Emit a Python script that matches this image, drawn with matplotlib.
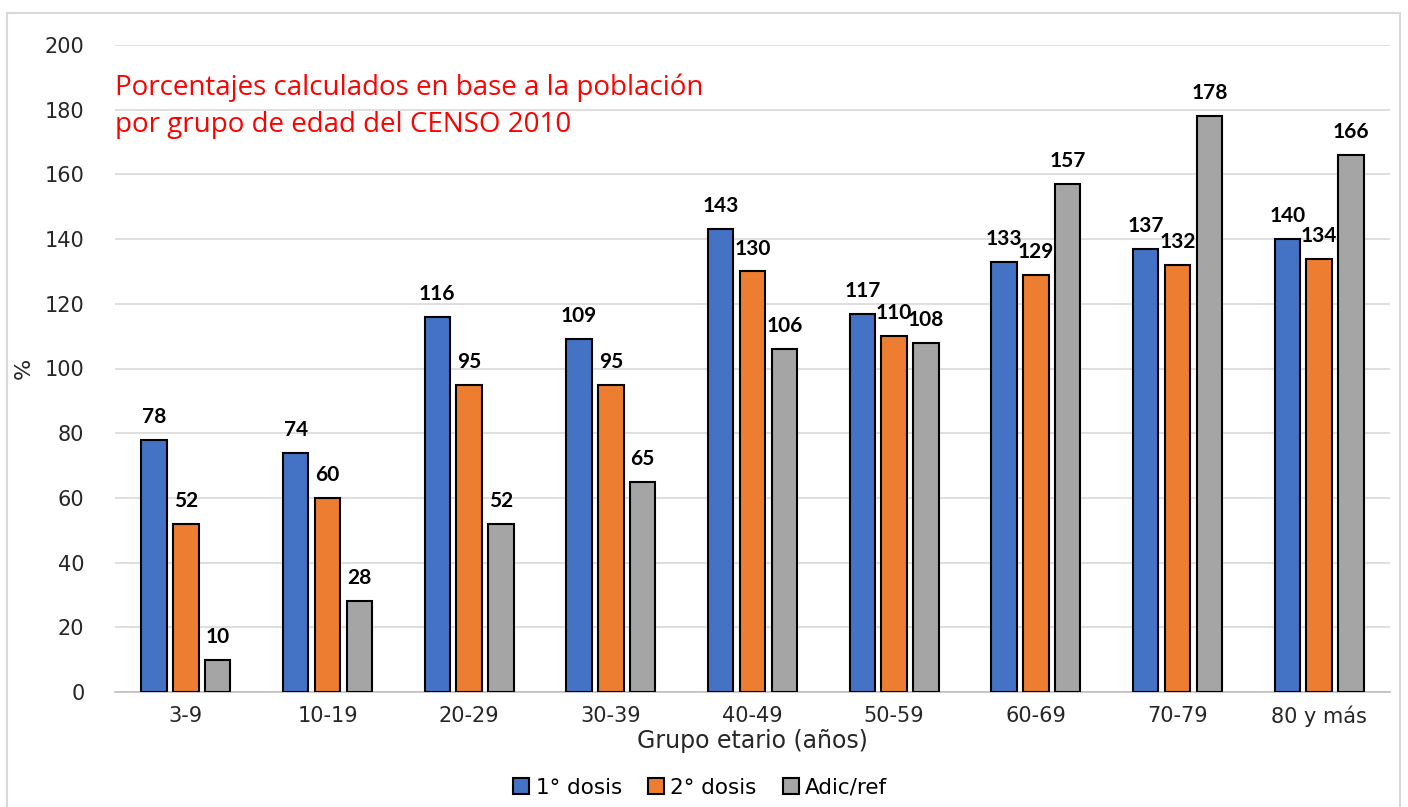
import matplotlib.pyplot as plt
import numpy as np
from matplotlib.patches import Rectangle

grupos = ["3-9", "10-19", "20-29", "30-39", "40-49", "50-59", "60-69", "70-79", "80 y más"]
dosis1 = [78, 74, 116, 109, 143, 117, 133, 137, 140]
dosis2 = [52, 60, 95, 95, 130, 110, 129, 132, 134]
adic_ref = [10, 28, 52, 65, 106, 108, 157, 178, 166]
series_names = ["1° dosis", "2° dosis", "Adic/ref"]
colors = ["#4472C4", "#ED7D31", "#A5A5A5"]

plt.rcParams["font.family"] = ["DejaVu Sans"]

fig = plt.figure(figsize=(14.08, 8.07), dpi=100)
ax = fig.add_axes([115 / 1408, 1 - 692 / 807, 1275 / 1408, 647 / 807])

# chart border
fig.patches.append(Rectangle((7 / 1408, -0.01), 1393 / 1408, 1 - 13 / 807 + 0.01,
                             transform=fig.transFigure, fill=False,
                             edgecolor="#D9D9D9", linewidth=1.5))

x = np.arange(len(grupos))
width = 0.18
step = 0.225
for i, (vals, name, col) in enumerate(zip([dosis1, dosis2, adic_ref], series_names, colors)):
    pos = x + (i - 1) * step
    ax.bar(pos, vals, width, color=col, edgecolor="black", linewidth=1.5, label=name, zorder=3)
    for p, v in zip(pos, vals):
        ax.text(p, v + 4, str(v), ha="center", va="bottom", fontsize=15,
                fontweight="bold", color="black", family=["Lato", "DejaVu Sans"], zorder=4)

ax.set_xlim(-0.5, len(grupos) - 0.5)
ax.set_ylim(0, 200)
ax.set_yticks(range(0, 201, 20))
ax.set_xticks(x)
ax.set_xticklabels(grupos)
ax.tick_params(axis="both", labelsize=15, length=0, colors="#262626")
ax.tick_params(axis="y", pad=22)
ax.tick_params(axis="x", pad=10)
ax.grid(axis="y", color="#D9D9D9", linewidth=1.2, zorder=0)
for s in ["left", "right", "top"]:
    ax.spines[s].set_visible(False)
ax.spines["bottom"].set_color("#BFBFBF")
ax.spines["bottom"].set_linewidth(1.2)

ax.set_xlabel("Grupo etario (años)", fontsize=17, labelpad=1, color="#262626")
ax.set_ylabel("%", fontsize=16, labelpad=8, color="#262626")

ax.text(0.0, 0.956, "Porcentajes calculados en base a la población\npor grupo de edad del CENSO 2010",
        transform=ax.transAxes, color="red", fontsize=20, family=["Open Sans", "DejaVu Sans"],
        ha="left", va="top", linespacing=1.45)

ax.legend(loc="center", bbox_to_anchor=(0.459, -0.148), ncol=3, frameon=False,
          fontsize=15.5, handlelength=0.75, handleheight=0.75, handletextpad=0.3,
          columnspacing=1.2, borderaxespad=0)

fig.savefig("out.png", dpi=100)
